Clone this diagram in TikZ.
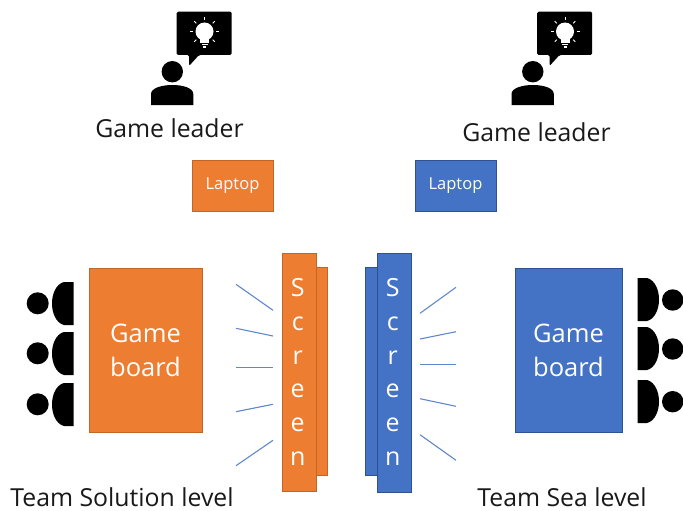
\documentclass[tikz,border=0pt]{standalone}
\usepackage{fontspec}
\setmainfont{Open Sans}
\usepackage{tikz}
\usetikzlibrary{calc}

\definecolor{boardorange}{HTML}{ED7D31}
\definecolor{edgeorange}{HTML}{C0662A}
\definecolor{boardblue}{HTML}{4472C4}
\definecolor{edgeblue}{HTML}{2F528F}

\tikzset{
  orangebox/.style={draw=edgeorange,fill=boardorange,text=white,line width=0.7pt,inner sep=0pt,align=center},
  bluebox/.style={draw=edgeblue,fill=boardblue,text=white,line width=0.7pt,inner sep=0pt,align=center},
  boardtext/.style={font=\fontsize{25.5}{34}\selectfont},
  screentext/.style={font=\fontsize{25}{33.7}\selectfont,text=white,align=center,inner sep=0pt},
  laptoptext/.style={font=\fontsize{16.5}{18}\selectfont},
  caption/.style={font=\fontsize{24.8}{28}\selectfont,text=black!90,inner sep=0pt},
  ray/.style={draw=boardblue!85,line width=1.1pt},
}

\begin{document}
\begin{tikzpicture}[x=1pt,y=-1pt]
\useasboundingbox (0,0) rectangle (683,511);

% game leaders
\foreach \dx/\nm in {0/a,360.5/b}{
  \begin{scope}[xshift=\dx pt]
    \fill[rounded corners=1.5pt] (176.7,11.7) -- (231.7,11.7) -- (231.7,55) -- (199,55) -- (189,66) -- (189,55) -- (176.7,55) -- cycle;
    \fill[white] (204.5,31.5) circle (9);
    \fill[white] (200,37) rectangle (209,43);
    \fill[white] (201.5,44) rectangle (207.5,45.5);
    \fill[white] (203,46.5) rectangle (206,48);
    \foreach \ang in {0,45,135,180,225,315,270}{
      \draw[white,line width=0.8pt] ($(204.5,31.5)+(\ang:11.5)$) -- ($(204.5,31.5)+(\ang:14.5)$);
    }
    \fill (172.3,71.7) circle (10.7);
    \fill (151,105) -- (151,94) .. controls (151,88) and (162,85) .. (172.3,85) .. controls (183,85) and (193.3,88) .. (193.3,94) -- (193.3,105) -- cycle;
  \end{scope}
}

\node[caption] (leaderL) at (169.5,128) {Game leader};
\node[caption] (leaderR) at (536.5,132.5) {Game leader};

% laptops
\node[orangebox,laptoptext,minimum width=81,minimum height=51] (laptopL) at (232.5,185.5) {Laptop};
\node[bluebox,laptoptext,minimum width=81,minimum height=51] (laptopR) at (455.5,185.5) {Laptop};

% boards
\node[orangebox,boardtext,minimum width=113,minimum height=164] (boardL) at (145.5,350) {Game\\board};
\node[bluebox,boardtext,minimum width=107,minimum height=164] (boardR) at (568.5,350) {Game\\board};

% screens
\node[orangebox,minimum width=12,minimum height=208] (backL) at (321,371) {};
\node[orangebox,minimum width=34,minimum height=238] (screenL) at (299.7,372) {};
\node[screentext] (lettersL) at (297.7,372) {S\\c\\r\\e\\e\\n};
\node[bluebox,minimum width=12,minimum height=208] (backR) at (371.5,371) {};
\node[bluebox,minimum width=34,minimum height=239] (screenR) at (394,372.5) {};
\node[screentext] (lettersR) at (392.7,372) {S\\c\\r\\e\\e\\n};

% rays
\foreach \ya/\yb in {284.3/310.3,328.3/336,367.3/367.3,411.7/404.3,465.7/440.3}{
  \draw[ray] (236,\ya) -- (273,\yb);
}
\foreach \ya/\yb in {313.3/287.3,339/331.7,364.3/364.3,398.7/406.3,434.7/460.3}{
  \draw[ray] (420,\ya) -- (456,\yb);
}

% teams
\foreach \yc/\yt in {303.3/282,353.3/332,404.3/383}{
  \fill (37.7,\yc) circle (11);
  \fill (73.5,\yt) -- (64,\yt) .. controls (56,\yt+2) and (52,\yt+12) .. (52,\yt+21.5) .. controls (52,\yt+31) and (56,\yt+41) .. (64,\yt+43) -- (73.5,\yt+43) -- cycle;
}
\foreach \yc/\yt in {300/278,349/327,401.7/380}{
  \fill (672.7,\yc) circle (10.7);
  \fill (637.7,\yt) -- (647,\yt) .. controls (655,\yt+2) and (659,\yt+12) .. (659,\yt+21.5) .. controls (659,\yt+31) and (655,\yt+41) .. (647,\yt+43) -- (637.7,\yt+43) -- cycle;
}

\node[caption] (teamL) at (122,497) {Team Solution level};
\node[caption] (teamR) at (562,497) {Team Sea level};

\end{tikzpicture}
\end{document}
